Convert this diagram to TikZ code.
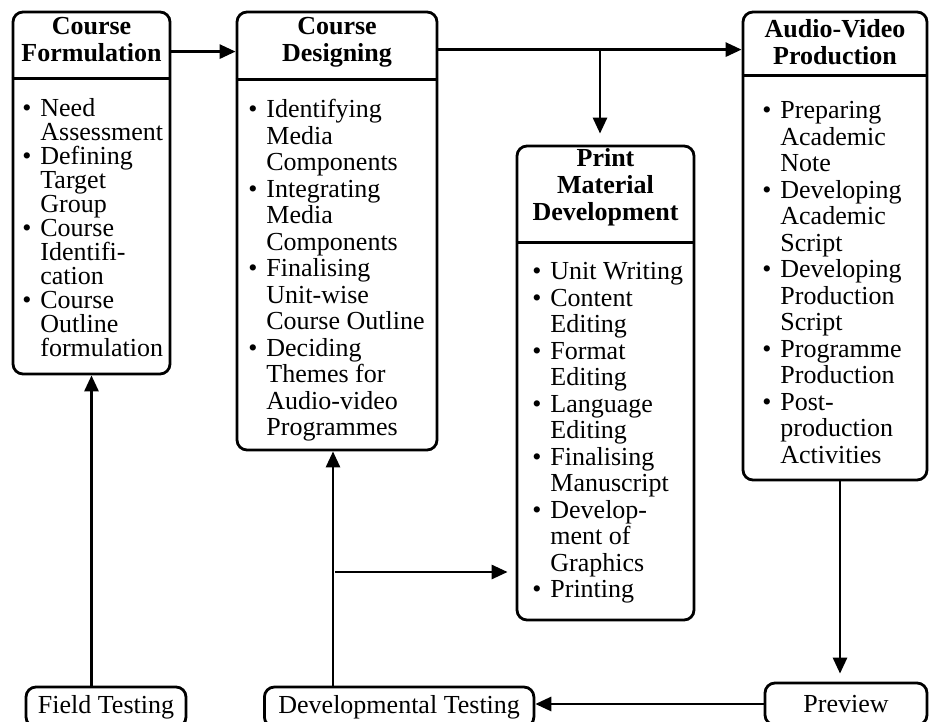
\documentclass[tikz,border=0pt]{standalone}
\usepackage{fontspec}
\setmainfont{Liberation Serif}
\usetikzlibrary{positioning,arrows.meta}

% bullet and an empty lead-in of the same width
\newcommand{\itm}{\makebox[9pt][l]{\textbullet}}
\newcommand{\cnt}{\makebox[9pt]{}}

\begin{document}
\begin{tikzpicture}[
  x=0.5pt, y=0.5pt,
  frame/.style={draw, line width=1.4pt, rounded corners=5pt, inner sep=0pt},
  head/.style={inner sep=0pt, align=center, font=\fontsize{13}{13.5}\selectfont\bfseries},
  body/.style={inner sep=0pt, align=left, font=\fontsize{13}{13.25}\selectfont},
  tbox/.style={draw, line width=1.4pt, rounded corners=5pt, minimum height=20pt, font=\fontsize{13}{13.25}\selectfont},
  sep/.style={line width=1.4pt},
  arr/.style={line width=1.4pt, -{Triangle[length=8pt, width=7pt]}}]
  \useasboundingbox (0,0) rectangle (929,-721);
  \clip (0,0) rectangle (929,-721);
  % stage boxes
  \node[frame, minimum width=78.5pt, minimum height=181pt] (cf) at (91.5,-193) {};
  \node[frame, minimum width=100pt, minimum height=219pt] (cd) at (337,-231) {};
  \node[frame, minimum width=88.5pt, minimum height=237pt] (pmd) at (605.5,-383) {};
  \node[frame, minimum width=92pt, minimum height=234pt] (avp) at (835,-246) {};
  \draw[sep] ([yshift=-34pt]cf.north west) -- ([yshift=-34pt]cf.north east);
  \draw[sep] ([yshift=-34.5pt]cd.north west) -- ([yshift=-34.5pt]cd.north east);
  \draw[sep] ([yshift=-49pt]pmd.north west) -- ([yshift=-49pt]pmd.north east);
  \draw[sep] ([yshift=-32.5pt]avp.north west) -- ([yshift=-32.5pt]avp.north east);
  % titles
  \node[head, anchor=north] (cfh) at (91.5,-17) {Course\\Formulation};
  \node[head, anchor=north] (cdh) at (337,-17) {Course\\Designing};
  \node[head, anchor=north] (pmdh) at (605.5,-148) {Print\\Material\\Development};
  \node[head, anchor=north] (avph) at (835,-19) {Audio-Video\\Production};
  % item lists
  \node[body, anchor=north west, font=\fontsize{13}{12}\selectfont] (cfb) at (22,-98) {%
    \itm Need\\ \cnt Assessment\\
    \itm Defining\\ \cnt Target\\ \cnt Group\\
    \itm Course\\ \cnt Identifi-\\ \cnt cation\\
    \itm Course\\ \cnt Outline\\ \cnt formulation};
  \node[body, anchor=north west] (cdb) at (248,-99) {%
    \itm Identifying\\ \cnt Media\\ \cnt Components\\
    \itm Integrating\\ \cnt Media\\ \cnt Components\\
    \itm Finalising\\ \cnt Unit-wise\\ \cnt Course Outline\\
    \itm Deciding\\ \cnt Themes for\\ \cnt Audio-video\\ \cnt Programmes};
  \node[body, anchor=north west] (pmdb) at (532,-262) {%
    \itm Unit Writing\\
    \itm Content\\ \cnt Editing\\
    \itm Format\\ \cnt Editing\\
    \itm Language\\ \cnt Editing\\
    \itm Finalising\\ \cnt Manuscript\\
    \itm Develop-\\ \cnt ment of\\ \cnt Graphics\\
    \itm Printing};
  \node[body, anchor=north west] (avpb) at (762,-101) {%
    \itm Preparing\\ \cnt Academic\\ \cnt Note\\
    \itm Developing\\ \cnt Academic\\ \cnt Script\\
    \itm Developing\\ \cnt Production\\ \cnt Script\\
    \itm Programme\\ \cnt Production\\
    \itm Post-\\ \cnt production\\ \cnt Activities};
  % testing and preview
  \node[tbox, minimum width=80pt] (ft) at (106,-707) {Field Testing};
  \node[tbox, anchor=west, inner xsep=7pt] (dt) at (263,-707) {Developmental Testing};
  \node[tbox, minimum width=81pt, minimum height=21pt] (pv) at (846,-704) {Preview};
  % flow
  \draw[arr] ([yshift=-20.5pt]cf.north east) -- ([yshift=-20.5pt]cd.north west);
  \draw[arr] ([yshift=-19.5pt]cd.north east) -- ([yshift=-19.5pt]avp.north west);
  \coordinate (split) at (600,-51);
  \draw[arr, shorten >=5.5pt] (split) -- (split |- pmd.north);
  \draw[arr, shorten >=4pt] ([xshift=2.5pt]avp.south) -- ([xshift=2.5pt]avp.south |- pv.north);
  \draw[arr] (pv.west) -- (pv.west -| dt.east);
  \draw[arr] ([xshift=-2pt]cd.south |- dt.north) -- ([xshift=-2pt]cd.south);
  \coordinate (tap) at (335,-572);
  \draw[arr, shorten >=4pt] (tap) -- (tap -| pmd.west);
  \draw[arr] (cf.south |- ft.north) -- (cf.south);
\end{tikzpicture}
\end{document}
